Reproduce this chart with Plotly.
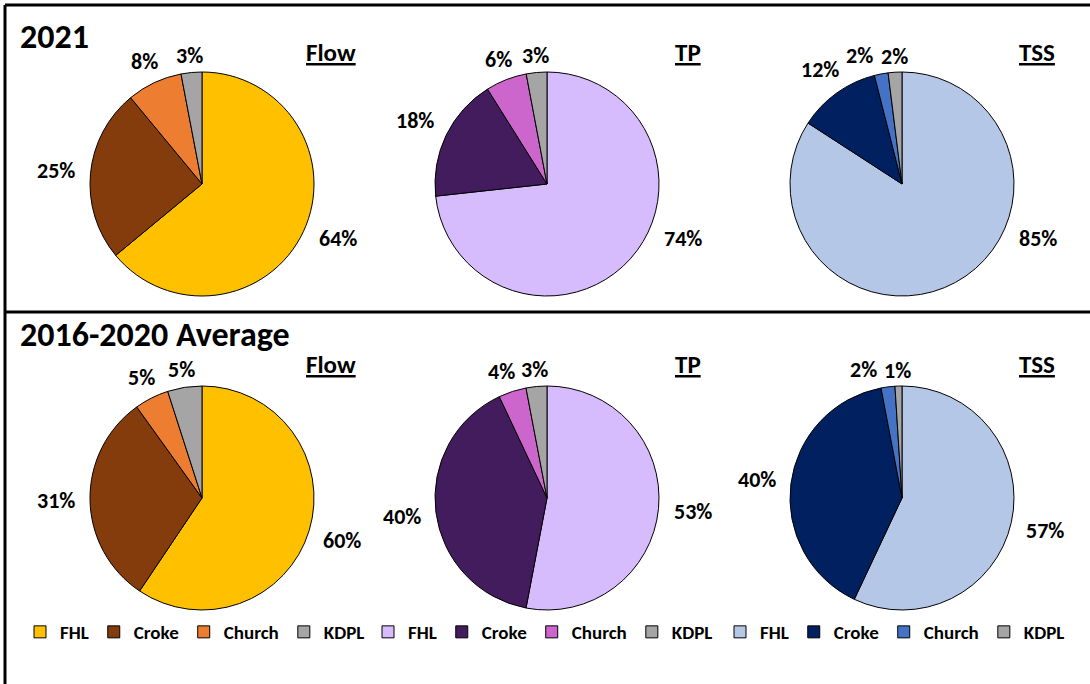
import math
import plotly.graph_objects as go

sources = ["FHL", "Croke", "Church", "KDPL"]
params = ["Flow", "TP", "TSS"]
row_titles = ["2021", "2016-2020 Average"]

flow_2021 = [64, 25, 8, 3]
tp_2021 = [74, 18, 6, 3]
tss_2021 = [85, 12, 2, 2]
flow_avg = [60, 31, 5, 5]
tp_avg = [53, 40, 4, 3]
tss_avg = [57, 40, 2, 1]

flow_colors = ["#FFC000", "#843C0C", "#ED7D31", "#A5A5A5"]
tp_colors = ["#D6BCFC", "#431C5D", "#CC66CC", "#A5A5A5"]
tss_colors = ["#B4C7E7", "#002060", "#4472C4", "#A5A5A5"]

W, H = 1090, 684
FONT = "Carlito, Calibri, Lato, sans-serif"
LBL_SIZE = 22

rows = [[flow_2021, tp_2021, tss_2021], [flow_avg, tp_avg, tss_avg]]
palettes = [flow_colors, tp_colors, tss_colors]
cx = [202, 547, 902]
cy = [184, 498]
R = 112
legend_ids = ["legend", "legend2", "legend3"]
MAX_BIG_ANGLE = 0.31  # fraction of a turn: keep the big-slice label on the right side

fig = go.Figure()
annotations = []


def label_boxes(vals, cxp, cyp):
    total = float(sum(vals))
    cum = 0.0
    mids = []
    for v in vals:
        m = (cum + v / 2.0) / total
        if v / total > 0.5:
            m = min(m, MAX_BIG_ANGLE)
        mids.append(m)
        cum += v
    placed = []
    out = [None] * len(vals)
    for i in reversed(range(len(vals))):
        txt = f"{vals[i]}%"
        w = 0.56 * LBL_SIZE * len(txt) + 2
        h = 0.8 * LBL_SIZE
        th = 2 * math.pi * mids[i]
        sx, sy = math.sin(th), -math.cos(th)
        d = R + 6 + abs(sx) * (w / 2 + 8) + abs(sy) * (h / 2)
        px, py = cxp + sx * d, cyp + sy * d
        step = -1 if sx <= 0 else 1
        for _ in range(200):
            hit = any(abs(px - qx) < (w + qw) / 2 + 6 and abs(py - qy) < (h + qh) / 2
                      for qx, qy, qw, qh in placed)
            if not hit:
                break
            px += step * 2
        placed.append((px, py, w, h))
        out[i] = (txt, px, py)
    return out


for ri, row in enumerate(rows):
    for ci, vals in enumerate(row):
        labels = [s + "\u200b" * ci for s in sources]
        fig.add_trace(go.Pie(
            labels=labels,
            values=vals,
            textinfo="none",
            sort=False,
            direction="clockwise",
            rotation=0,
            marker=dict(colors=palettes[ci], line=dict(color="black", width=1)),
            domain=dict(x=[(cx[ci] - R) / W, (cx[ci] + R) / W],
                        y=[(H - cy[ri] - R) / H, (H - cy[ri] + R) / H]),
            showlegend=(ri == 0),
            legend=legend_ids[ci],
            hoverinfo="label+percent",
        ))
        for txt, px, py in label_boxes(vals, cx[ci], cy[ri]):
            annotations.append(dict(text=f"<b>{txt}</b>", x=px / W, y=(H - py) / H,
                                    xref="paper", yref="paper", xanchor="center", yanchor="middle",
                                    showarrow=False,
                                    font=dict(family=FONT, size=LBL_SIZE, color="black")))

leg_x = [20, 368, 720]
legend_common = dict(orientation="h", yanchor="middle", xanchor="left",
                     font=dict(family=FONT, size=19, color="black", weight="bold"),
                     bgcolor="rgba(0,0,0,0)", tracegroupgap=0)
layout_leg = {}
for i, lid in enumerate(legend_ids):
    layout_leg[lid] = dict(x=leg_x[i] / W, y=(H - 632) / H, **legend_common)

title_y = [36, 334]
for ri, t in enumerate(row_titles):
    annotations.append(dict(text=f"<b>{t}</b>", x=18 / W, y=(H - title_y[ri]) / H,
                            xref="paper", yref="paper", xanchor="left", yanchor="middle",
                            showarrow=False, font=dict(family=FONT, size=34, color="black")))
sub_right = [358, 703, 1057]
sub_y = [52, 364]
for ri in range(2):
    for ci, p in enumerate(params):
        annotations.append(dict(text=f"<u><b>{p}</b></u>", x=sub_right[ci] / W, y=(H - sub_y[ri]) / H,
                                xref="paper", yref="paper", xanchor="right", yanchor="middle",
                                showarrow=False, font=dict(family=FONT, size=25, color="black")))

shapes = [
    dict(type="line", xref="paper", yref="paper", x0=5 / W, x1=1, y0=(H - 5) / H, y1=(H - 5) / H,
         line=dict(color="black", width=3)),
    dict(type="line", xref="paper", yref="paper", x0=5 / W, x1=1, y0=(H - 312) / H, y1=(H - 312) / H,
         line=dict(color="black", width=3)),
    dict(type="line", xref="paper", yref="paper", x0=5 / W, x1=5 / W, y0=0, y1=(H - 5) / H,
         line=dict(color="black", width=3)),
]

fig.update_layout(
    width=W, height=H,
    margin=dict(l=0, r=0, t=0, b=0),
    paper_bgcolor="white", plot_bgcolor="white",
    annotations=annotations, shapes=shapes,
    **layout_leg,
)

fig.write_html("out.html", config={"displayModeBar": False},
               post_script="document.body.style.margin='0px';")
